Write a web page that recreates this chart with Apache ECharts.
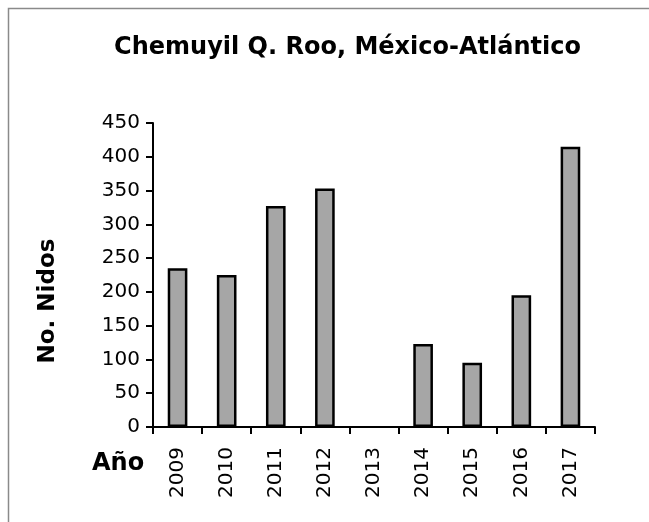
<!DOCTYPE html>
<html>
<head>
<meta charset="utf-8">
<script src="https://cdn.jsdelivr.net/npm/echarts@6/dist/echarts.min.js"></script>
<style>html,body{margin:0;padding:0;background:#fff}#c{width:649px;height:522px}</style>
</head>
<body>
<div id="c"></div>
<script>
const categories = ['2009','2010','2011','2012','2013','2014','2015','2016','2017'];
const nidos = [235, 225, 327, 353, null, 123, 95, 195, 415];
const titleText = 'Chemuyil Q. Roo, México-Atlántico';
const yName = 'No. Nidos';
const xName = 'Año';

const chart = echarts.init(document.getElementById('c'), null, {renderer: 'canvas'});
const F = 'DejaVu Sans';
chart.setOption({
  animation: false,
  backgroundColor: '#fff',
  grid: {left: 153, right: 54, top: 123, bottom: 95, containLabel: false},
  xAxis: {
    type: 'category', data: categories,
    axisLine: {lineStyle: {color: '#000', width: 2}},
    axisTick: {show: true, length: 7, lineStyle: {color: '#000', width: 2}},
    axisLabel: {rotate: 90, margin: 20, fontFamily: F, fontSize: 20, color: '#000'}
  },
  yAxis: {
    type: 'value', min: 0, max: 450, interval: 50,
    splitLine: {show: false},
    axisLine: {show: true, lineStyle: {color: '#000', width: 2}},
    axisTick: {show: true, length: 7, lineStyle: {color: '#000', width: 2}},
    axisLabel: {margin: 13, fontFamily: F, fontSize: 20, color: '#000'}
  },
  series: [{
    type: 'bar', data: nidos, barWidth: '40%',
    itemStyle: {color: '#A6A6A6', borderColor: '#000', borderWidth: 2.5}
  }],
  graphic: [
    {type: 'rect', shape: {x: 8.5, y: 8.5, width: 800, height: 700}, style: {fill: 'none', stroke: '#8a8a8a', lineWidth: 1.5}, silent: true},
    {type: 'text', x: 347.5, y: 48, 
     style: {text: titleText, fontFamily: F, fontWeight: 'bold', fontSize: 24, fill: '#000', textAlign: 'center', textVerticalAlign: 'middle'}},
    {type: 'text', x: 48, y: 301, rotation: Math.PI / 2,
     style: {text: yName, fontFamily: F, fontWeight: 'bold', fontSize: 23, fill: '#000', textAlign: 'center', textVerticalAlign: 'middle'}},
    {type: 'text', x: 92, y: 464,
     style: {text: xName, fontFamily: F, fontWeight: 'bold', fontSize: 24, fill: '#000', textAlign: 'left', textVerticalAlign: 'middle'}}
  ]
});
</script>
</body>
</html>
